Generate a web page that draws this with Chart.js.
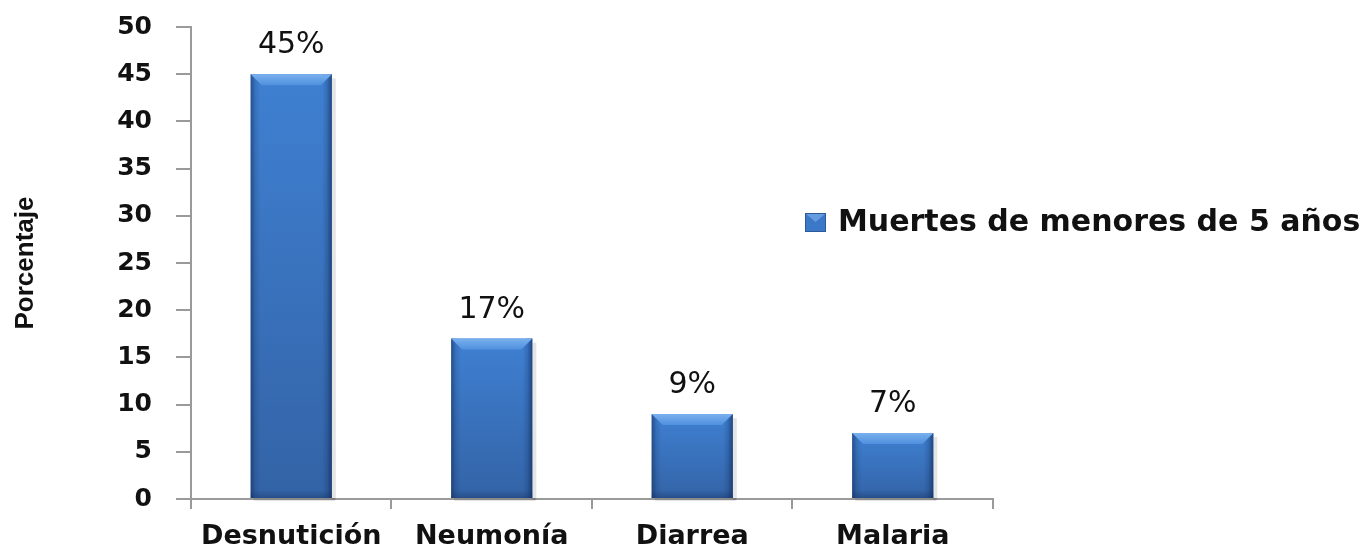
<!DOCTYPE html>
<html>
<head>
<meta charset="utf-8">
<script src="https://cdn.jsdelivr.net/npm/chart.js@4"></script>
<style>
  html, body { margin: 0; padding: 0; background: #fff; }
  #wrap { width: 1364px; height: 554px; position: relative; }
</style>
</head>
<body>
<div id="wrap"><canvas id="myChart"></canvas></div>
<script>
const categories = ['Desnutición', 'Neumonía', 'Diarrea', 'Malaria'];
const deaths = [45, 17, 9, 7];
const seriesName = 'Muertes de menores de 5 años';
const yTicks = [0, 5, 10, 15, 20, 25, 30, 35, 40, 45, 50];

const barPct = 0.405;

// vertical gradient per bar: lighter blue at top, darker towards the base
function barFill(ctx) {
    const chart = ctx.chart;
    if (!chart.chartArea || !chart.scales.y) return '#3b76c6';
    const ys = chart.scales.y;
    const top = ys.getPixelForValue(deaths[ctx.dataIndex]);
    const base = ys.getPixelForValue(0);
    const g = chart.ctx.createLinearGradient(0, top, 0, base);
    g.addColorStop(0, '#3f80d2');
    g.addColorStop(1, '#3363a6');
    return g;
}

// darker sides, lighter bevel on top, small shadow, value labels
const barExtras = {
    id: 'barExtras',
    beforeDatasetsDraw(chart) {
        const c = chart.ctx;
        chart.getDatasetMeta(0).data.forEach((bar) => {
            const l = bar.x - bar.width / 2, r = bar.x + bar.width / 2;
            c.save();
            c.fillStyle = 'rgba(0,0,0,0.10)';
            c.fillRect(r, bar.y + 4, 4, bar.base - bar.y - 2);
            c.fillRect(l + 3, bar.base, r - l, 3);
            c.restore();
        });
    },
    afterDatasetsDraw(chart) {
        const c = chart.ctx;
        const meta = chart.getDatasetMeta(0);
        meta.data.forEach((bar, i) => {
            const l = bar.x - bar.width / 2, r = bar.x + bar.width / 2;
            const t = bar.y, b = bar.base;
            c.save();
            // side shading
            const hg = c.createLinearGradient(l, 0, r, 0);
            hg.addColorStop(0, 'rgba(15,40,85,0.55)');
            hg.addColorStop(0.06, 'rgba(15,40,85,0.15)');
            hg.addColorStop(0.12, 'rgba(15,40,85,0)');
            hg.addColorStop(0.88, 'rgba(15,40,85,0)');
            hg.addColorStop(0.94, 'rgba(15,40,85,0.2)');
            hg.addColorStop(1, 'rgba(15,40,85,0.65)');
            c.fillStyle = hg;
            c.fillRect(l, t, r - l, b - t);
            // bottom edge
            const bg = c.createLinearGradient(0, b - 8, 0, b);
            bg.addColorStop(0, 'rgba(15,40,85,0)');
            bg.addColorStop(1, 'rgba(15,40,85,0.35)');
            c.fillStyle = bg;
            c.fillRect(l, b - 8, r - l, 8);
            // top bevel
            const bev = Math.min(11, (b - t) / 3);
            c.beginPath();
            c.moveTo(l, t);
            c.lineTo(r, t);
            c.lineTo(r - bev, t + bev);
            c.lineTo(l + bev, t + bev);
            c.closePath();
            const tg = c.createLinearGradient(0, t, 0, t + bev);
            tg.addColorStop(0, '#7ab0ee');
            tg.addColorStop(1, '#4f90de');
            c.fillStyle = tg;
            c.fill();
            // value label
            c.fillStyle = '#111';
            c.font = '30px "DejaVu Sans"';
            c.textAlign = 'center';
            c.textBaseline = 'alphabetic';
            c.fillText(deaths[i] + '%', bar.x, t - 21);
            c.restore();
        });
    }
};

// legend drawn beside the plot, overlapping its right part like the original
const sideLegend = {
    id: 'sideLegend',
    afterDraw(chart) {
        const c = chart.ctx;
        const area = chart.chartArea;
        const bx = area.right - 188, by = 213;
        c.save();
        c.fillStyle = '#3b78c8';
        c.fillRect(bx, by, 21, 19);
        c.strokeStyle = '#2a5a9a';
        c.lineWidth = 1;
        c.strokeRect(bx + 0.5, by + 0.5, 20, 18);
        c.fillStyle = 'rgba(130,180,240,0.6)';
        c.beginPath();
        c.moveTo(bx + 1, by + 1);
        c.lineTo(bx + 20, by + 1);
        c.lineTo(bx + 10.5, by + 9);
        c.closePath();
        c.fill();
        c.fillStyle = '#111';
        c.font = 'bold 30px "DejaVu Sans"';
        c.textAlign = 'left';
        c.textBaseline = 'middle';
        c.fillText(seriesName, bx + 33, by + 10);
        c.restore();
    }
};

const ctx = document.getElementById('myChart').getContext('2d');
const myChart = new Chart(ctx, {
    type: 'bar',
    data: {
        labels: categories,
        datasets: [{
            label: seriesName,
            data: deaths,
            backgroundColor: barFill,
            borderWidth: 0,
            barPercentage: barPct,
            categoryPercentage: 1
        }]
    },
    options: {
        responsive: true,
        maintainAspectRatio: false,
        animation: false,
        layout: { padding: { top: 27, right: 371, bottom: -11, left: 0 } },
        plugins: {
            legend: { display: false },
            tooltip: { enabled: false }
        },
        scales: {
            x: {
                grid: { drawOnChartArea: false, drawTicks: true, tickLength: 10, color: '#9a9a9a', lineWidth: 2 },
                border: { color: '#9a9a9a', width: 2 },
                ticks: {
                    color: '#111',
                    padding: 14.5,
                    maxRotation: 0,
                    font: { family: 'DejaVu Sans', size: 27, weight: 'bold', lineHeight: 1 }
                }
            },
            y: {
                min: 0,
                max: 50,
                afterBuildTicks: (axis) => { axis.ticks = yTicks.map(v => ({ value: v })); },
                grid: { drawOnChartArea: false, drawTicks: true, tickLength: 15, color: '#9a9a9a', lineWidth: 2 },
                border: { color: '#9a9a9a', width: 2 },
                ticks: {
                    color: '#111',
                    padding: 24,
                    font: { family: 'DejaVu Sans', size: 25, weight: 'bold', lineHeight: 0.2 }
                },
                title: {
                    display: true,
                    text: 'Porcentaje',
                    color: '#111',
                    padding: { top: 10, bottom: 52 },
                    font: { family: 'Liberation Sans', size: 26, weight: 'bold' }
                }
            }
        }
    },
    plugins: [barExtras, sideLegend]
});
</script>
</body>
</html>
